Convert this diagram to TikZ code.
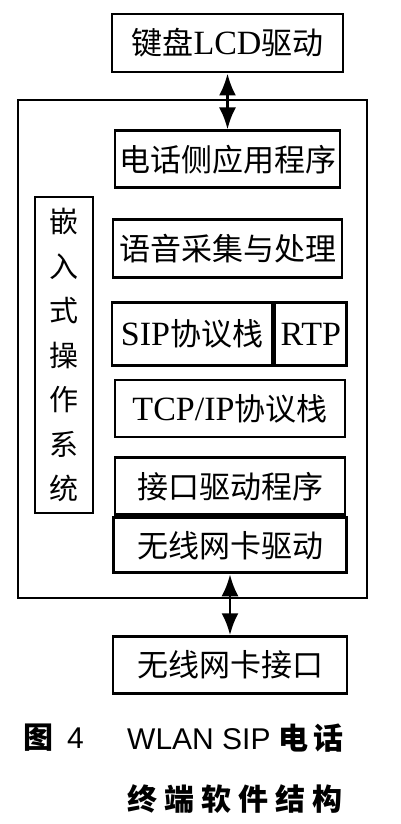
\documentclass[tikz,border=0pt]{standalone}
\usepackage{fontspec}
\setmainfont{Liberation Serif}
\newfontfamily\cjk{Noto Sans CJK SC}
\newfontfamily\capsans{Liberation Sans}
\usetikzlibrary{arrows.meta,positioning}
\newcommand\lat[1]{{\fontsize{34}{36}\selectfont #1}}

\begin{document}
\begin{tikzpicture}[x=1pt, y=-1pt, node distance=20pt,
        layer/.style={rectangle, draw, line width=2.9pt, minimum width=230pt, minimum height=57pt, inner sep=0pt, font=\fontsize{31}{36}\selectfont\cjk},
        frame/.style={rectangle, draw, line width=2.9pt, inner sep=0pt},
        link/.style={{Latex[length=22pt,width=17pt]}-{Latex[length=22pt,width=17pt]}, line width=2.9pt},
        caption/.style={anchor=west, inner sep=0pt, font=\fontsize{30}{36}\selectfont}]
        \useasboundingbox (0,0) rectangle (400,824);

        % Outer system frame and OS column
        \node[frame, minimum width=349pt, minimum height=498pt] (system) at (192.5,349) {};
        \node[frame, minimum width=58pt, minimum height=316pt, align=center, font=\fontsize{29}{44.5}\selectfont\cjk] (os) at (64,355) {嵌\\入\\式\\操\\作\\系\\统};

        % Layer stack (top to bottom)
        \node[layer, minimum width=231pt, minimum height=58pt] (lcd) at (227.5,43) {键盘\lat{\rmfamily LCD}驱动};
        \node[layer, below=56pt of lcd, minimum width=225pt] (app) {电话侧应用程序};
        \node[layer, below=29pt of app, minimum width=229pt, minimum height=58pt] (voice) {语音采集与处理};
        \node[layer, anchor=north west, minimum width=160pt, minimum height=63pt] (sip) at ([xshift=-1pt, yshift=-22pt]voice.south west) {\lat{\rmfamily SIP}协议栈};
        \node[layer, right=0pt of sip, minimum width=72pt, minimum height=63pt] (rtp) {\lat{\rmfamily RTP}};
        \node[layer] (tcp) at (230,408.5) {\lat{\rmfamily TCP/IP}协议栈};
        \node[layer, below=18pt of tcp] (iface) {接口驱动程序};
        \node[layer, below=0pt of iface, minimum width=233pt, minimum height=55pt] (wdrv) {无线网卡驱动};
        \node[layer, below=61pt of wdrv, minimum width=234pt] (wif) {无线网卡接口};

        % Arrows
        \draw[link] (lcd) -- (app);
        \draw[link] (wdrv) -- (wif);

        % Caption
        \node[caption] (fignum) at (23,738) {{\cjk\bfseries 图}\hspace{14pt}{\capsans 4}};
        \node[caption] (title1) at (127,738) {{\capsans WLAN SIP}\hspace{8pt}{\cjk\bfseries 电\hspace{5pt}话}};
        \node[caption] (title2) at (127,799) {\cjk\bfseries 终\hspace{7pt}端\hspace{7pt}软\hspace{7pt}件\hspace{7pt}结\hspace{7pt}构};
    \end{tikzpicture}
\end{document}
